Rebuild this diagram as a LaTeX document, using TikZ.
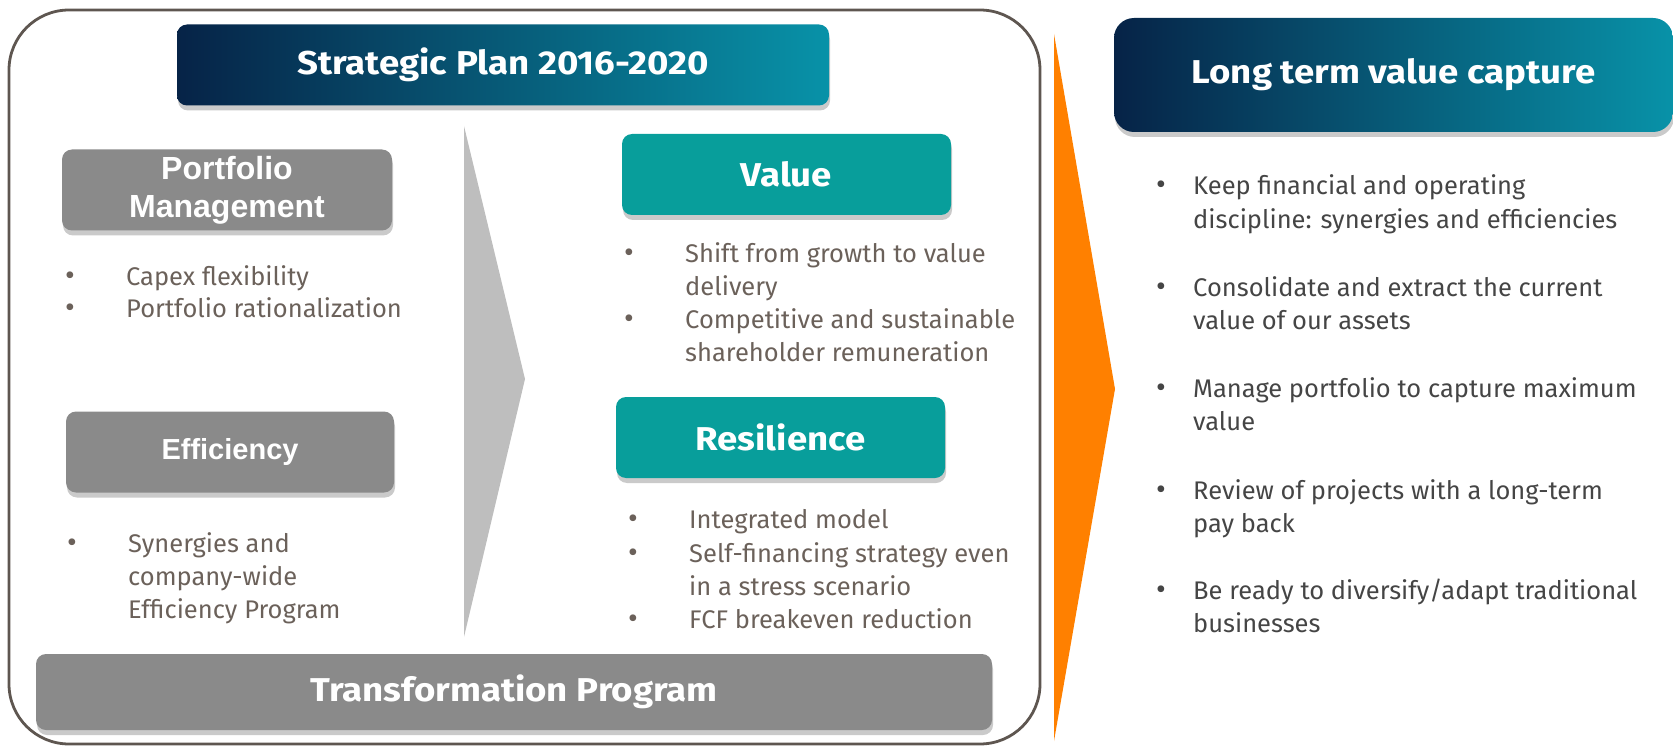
\documentclass[tikz,border=0pt]{standalone}
\usepackage{fontspec}
\setmainfont{Fira Sans}
\newfontfamily\arialfont{Liberation Sans}
\newfontfamily\hdrfont[FakeStretch=1.11]{Fira Sans}
\usetikzlibrary{shadows}
\definecolor{navy}{HTML}{062347}
\definecolor{tealH}{HTML}{0892A8}
\definecolor{tealB}{HTML}{089E9B}
\definecolor{grayB}{HTML}{8A8A8A}
\definecolor{chevG}{HTML}{BEBEBE}
\definecolor{orangeA}{HTML}{FF8000}
\definecolor{frameC}{HTML}{5E5650}
\definecolor{txtL}{HTML}{6B615A}
\definecolor{txtR}{HTML}{454545}
\tikzset{
  shad/.style={drop shadow={shadow xshift=1pt, shadow yshift=-5pt, opacity=0.35, fill=black!60}},
  hdr/.style={shad, rounded corners=10pt, left color=navy, right color=tealH, text=white,
    font=\hdrfont\fontsize{33}{38}\selectfont\bfseries, inner sep=0pt},
  tealbox/.style={shad, rounded corners=10pt, fill=tealB, text=white,
    font=\hdrfont\fontsize{33}{38}\selectfont\bfseries, inner sep=0pt, minimum width=329pt, minimum height=81pt},
  graybox/.style={shad, rounded corners=10pt, fill=grayB, text=white, inner sep=0pt,
    minimum width=329pt, minimum height=81pt},
  itemL/.style={anchor=base west, inner sep=0pt, text=txtL, font=\fontsize{25.5}{33}\selectfont},
  itemR/.style={anchor=base west, inner sep=0pt, text=txtR, font=\fontsize{25.5}{33.5}\selectfont},
  bulL/.style={anchor=base, inner sep=0pt, text=txtL, font=\fontsize{30}{33}\selectfont},
  bulR/.style={anchor=base, inner sep=0pt, text=txtR, font=\fontsize{30}{33}\selectfont},
  frame/.style={draw=frameC, line width=2.8pt, rounded corners=60pt},
}
\begin{document}
\begin{tikzpicture}[x=1pt,y=-1pt]
\useasboundingbox (0,0) rectangle (1673,746);
% outer frame
\draw[frame] (9,10) rectangle (1040,744);
% chevrons
\fill[chevG] (464,126) -- (525,379) -- (464,637) -- cycle;
\fill[orangeA] (1054,34) -- (1115,389) -- (1054,741) -- cycle;
% headers
\node[hdr, minimum width=652pt, minimum height=81pt] (sp) at (503,65) {Strategic Plan 2016-2020};
\node[hdr, minimum width=559pt, minimum height=114pt, rounded corners=20pt] (lt) at (1393.5,75) {Long term value capture};
% gray boxes
\node[graybox, minimum width=330pt, font=\arialfont\fontsize{32}{38}\selectfont\bfseries, align=center] (pm) at (227,190) {Portfolio\\Management};
\node[graybox, minimum width=328pt, font=\arialfont\fontsize{29}{34}\selectfont\bfseries] (ef) at (230,452) {Efficiency};
% teal boxes
\node[tealbox] (va) at (786.5,174.5) {Value};
\node[tealbox] (re) at (780.5,437.5) {Resilience};
% transformation bar
\node[graybox, minimum width=956pt, minimum height=76pt, font=\hdrfont\fontsize{33}{38}\selectfont\bfseries] (tp) at (514,692) {Transformation Program};
% portfolio bullets
\node[bulL] (pb1) at (70,285) {•};
\node[itemL] (pi1) at (126,285) {Capex flexibility};
\node[bulL] (pb2) at (70,317) {•};
\node[itemL] (pi2) at (126,317) {Portfolio rationalization};
% efficiency bullets
\node[bulL] (eb1) at (72,552) {•};
\node[itemL] (ei1) at (128,552) {\parbox[t]{300pt}{Synergies and\\company-wide\\Efficiency Program}};
% value bullets
\node[bulL] (vb1) at (629,262) {•};
\node[itemL] (vi1) at (685,262) {\parbox[t]{330pt}{Shift from growth to value\\delivery}};
\node[bulL] (vb2) at (629,328) {•};
\node[itemL] (vi2) at (685,328) {\parbox[t]{330pt}{Competitive and sustainable\\shareholder remuneration}};
% resilience bullets
\node[bulL] (rb1) at (633,528) {•};
\node[itemL] (ri1) at (689,528) {Integrated model};
\node[bulL] (rb2) at (633,562) {•};
\node[itemL] (ri2) at (689,562) {\parbox[t]{330pt}{Self-financing strategy even\\in a stress scenario}};
\node[bulL] (rb3) at (633,628) {•};
\node[itemL] (ri3) at (689,628) {FCF breakeven reduction};
% right bullets
\node[bulR] (lb1) at (1161,195) {•};
\node[itemR] (li1) at (1193,195) {\parbox[t]{470pt}{Keep financial and operating\\discipline: synergies and efficiencies}};
\node[bulR] (lb2) at (1161,296) {•};
\node[itemR] (li2) at (1193,296) {\parbox[t]{470pt}{Consolidate and extract the current\\value of our assets}};
\node[bulR] (lb3) at (1161,397) {•};
\node[itemR] (li3) at (1193,397) {\parbox[t]{470pt}{Manage portfolio to capture maximum\\value}};
\node[bulR] (lb4) at (1161,499) {•};
\node[itemR] (li4) at (1193,499) {\parbox[t]{470pt}{Review of projects with a long-term\\pay back}};
\node[bulR] (lb5) at (1161,599) {•};
\node[itemR] (li5) at (1193,599) {\parbox[t]{470pt}{Be ready to diversify/adapt traditional\\businesses}};
\end{tikzpicture}
\end{document}
